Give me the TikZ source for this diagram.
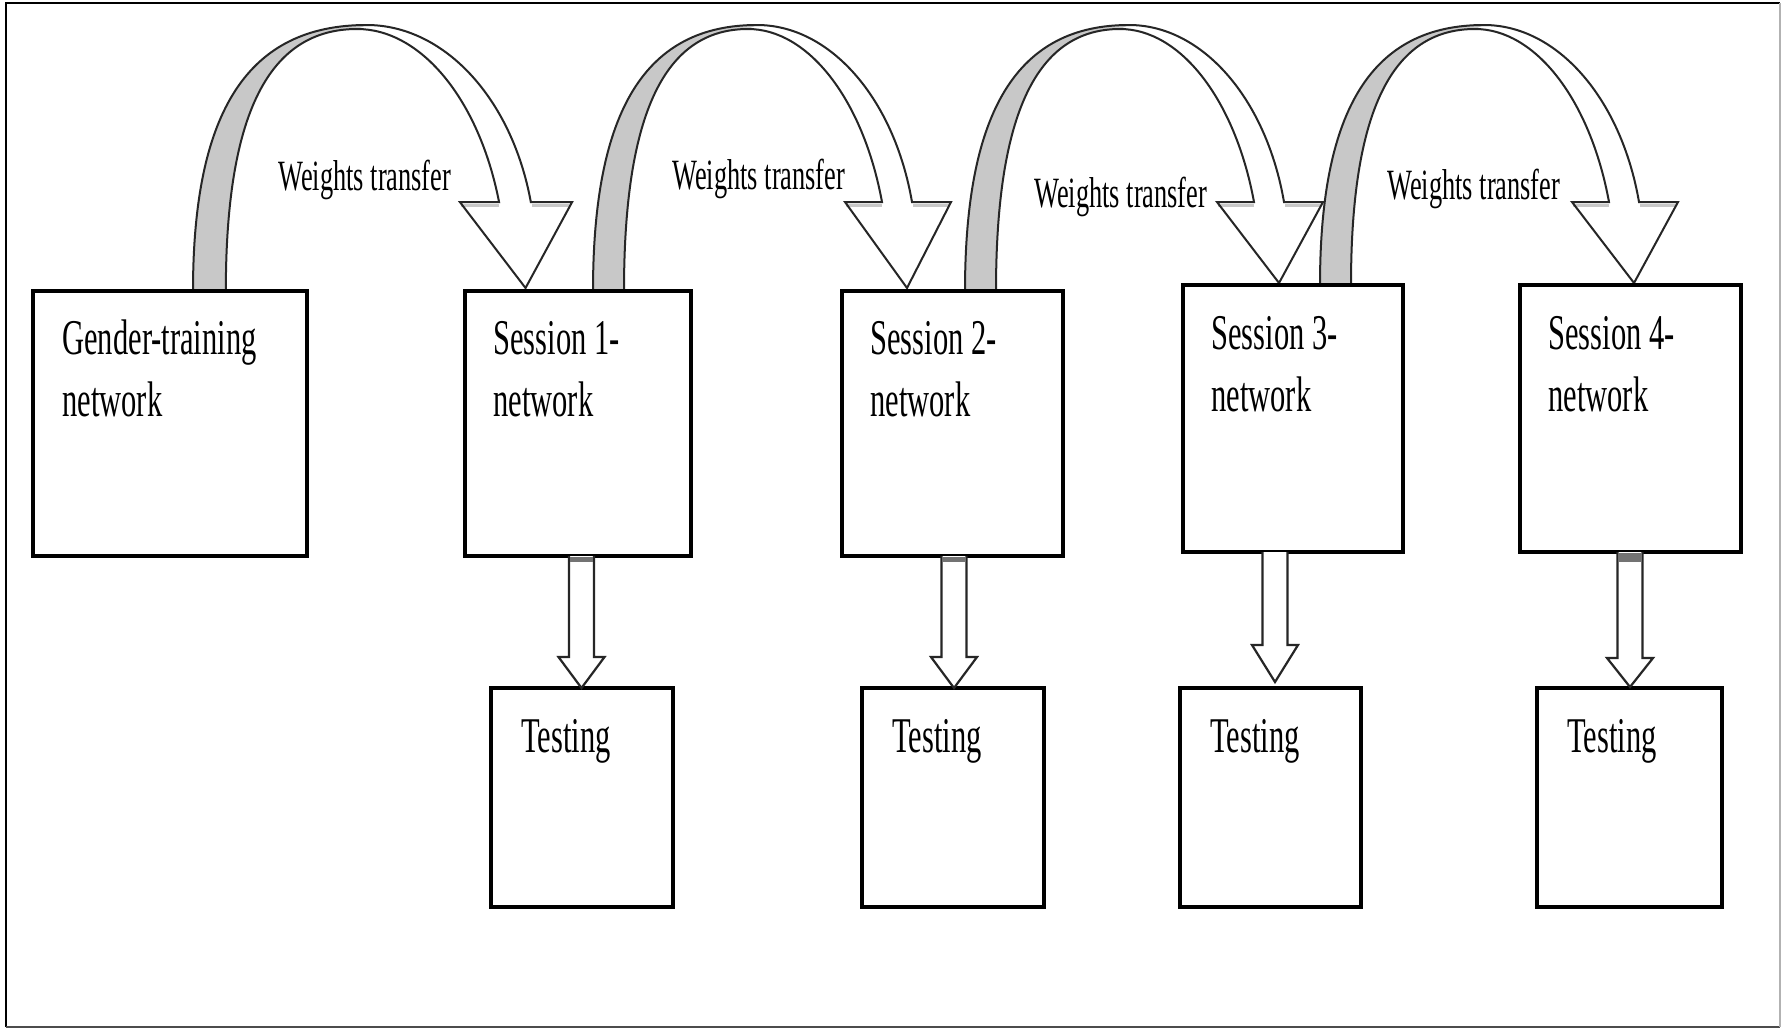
\documentclass[tikz,border=0pt]{standalone}
\usepackage{fontspec}
\newfontfamily\condserif[FakeStretch=0.61]{Liberation Serif}
\definecolor{bandgray}{RGB}{200,200,200}
\tikzset{
  netbox/.style={draw=black, line width=1.8pt, fill=white, inner sep=0pt, outer sep=0pt, anchor=north west},
  boxtext/.style={anchor=base west, inner sep=0pt, font=\condserif\fontsize{25}{30}\selectfont},
  wttext/.style={anchor=base west, inner sep=0pt, font=\condserif\fontsize{21.6}{26}\selectfont},
  arrowline/.style={draw=black!85, line width=1pt, line join=miter},
  bandfill/.style={fill=bandgray},
  blockarrow/.style={draw=black!85, fill=white, line width=1.1pt, line join=miter},
}
% curved "weights transfer" arrow: #1 left foot x, #2 foot y, #3 tip y, #4 xscale
\newcommand\wtarrow[4]{%
  \begin{scope}[shift={(#1,0)}, xscale=#4]
    \fill[bandfill] (0,#2) .. controls (0,{#2-0.68*(#2-25)}) and (52.5,25) .. (164,25)
      -- (155,29) .. controls (72,29) and (31,{#2-0.68*(#2-29)}) .. (31,#2) -- cycle;
    \draw[bandgray, line width=1.2pt] (253,205.5) -- (289,205.5) (320,205.5) -- (356,205.5);
    \draw[arrowline] (0,#2) .. controls (0,{#2-0.68*(#2-25)}) and (52.5,25) .. (164,25)
      .. controls (237,25) and (301,98) .. (319,202)
      -- (358,202) -- (314,#3) -- (252,202) -- (289,202)
      .. controls (270,99) and (215,29) .. (155,29)
      .. controls (72,29) and (31,{#2-0.68*(#2-29)}) .. (31,#2);
  \end{scope}}
% block arrow down: #1 centre x, #2 top y, #3 head base y, #4 tip y
\newcommand\blockdown[4]{%
  \begin{scope}[shift={(#1,0)}]
    \draw[blockarrow] (-12.5,#2) -- (-12.5,#3) -- (-23,#3) -- (0,#4) -- (23,#3) -- (12.5,#3) -- (12.5,#2);
  \end{scope}}
% grey cap at the top of a block arrow: #1 centre x, #2 top y, #3 height
\newcommand\blockcap[3]{%
  \fill[black!55] ({#1-11.5},{#2+1}) rectangle ({#1+11.5},{#2+#3});}
\newcommand\pbox[5]{%
  \node[netbox, minimum width={(#4-#2)*0.5pt}, minimum height={(#5-#3)*0.5pt}] (#1) at (#2,#3) {};}
\begin{document}
\begin{tikzpicture}[x=0.5pt, y=-0.5pt]
  \useasboundingbox (0,0) rectangle (1782,1029);
  \fill[white] (0,0) rectangle (1782,1029);
  % outer frame
  \draw[line width=1.2pt, black] (6,1027) -- (6,3) -- (1780,3);
  \draw[line width=1.2pt, black!70] (6,1027) -- (1780,1027);
  \draw[line width=0.8pt, black!30] (1780,3) -- (1780,1027);

  % curved arrows
  \wtarrow{193}{291}{288}{1.059}
  \wtarrow{593}{291}{288}{1}
  \wtarrow{965}{291}{283}{1}
  \wtarrow{1320}{285}{283}{1}

  % labels of curved arrows
  \node[wttext] (w1) at (278,190) {Weights transfer};
  \node[wttext] (w2) at (672,189) {Weights transfer};
  \node[wttext] (w3) at (1034,207) {Weights transfer};
  \node[wttext] (w4) at (1387,199) {Weights transfer};

  % boxes
  \pbox{g}{33}{291}{307}{556}
  \pbox{s1}{465}{291}{691}{556}
  \pbox{s2}{842}{291}{1063}{556}
  \pbox{s3}{1183}{285}{1403}{552}
  \pbox{s4}{1520}{285}{1741}{552}
  \pbox{t1}{491}{688}{673}{907}
  \pbox{t2}{862}{688}{1044}{907}
  \pbox{t3}{1180}{688}{1361}{907}
  \pbox{t4}{1537}{688}{1722}{907}

  % block arrows to testing
  \blockdown{581.5}{556}{657}{688}
  \blockdown{954}{556}{657}{688}
  \blockdown{1275}{552}{645}{682}
  \blockdown{1630}{552}{658}{687}
  \blockcap{581.5}{556}{6}
  \blockcap{954}{556}{6}
  \blockcap{1630}{552}{10}

  % box texts
  \node[boxtext] (gt1) at ([shift={(29,63)}]g.north west) {Gender-training};
  \node[boxtext] (gt2) at ([shift={(29,125)}]g.north west) {network};
  \node[boxtext] (s1a) at ([shift={(28,63)}]s1.north west) {Session 1-};
  \node[boxtext] (s1b) at ([shift={(28,125)}]s1.north west) {network};
  \node[boxtext] (s2a) at ([shift={(28,63)}]s2.north west) {Session 2-};
  \node[boxtext] (s2b) at ([shift={(28,125)}]s2.north west) {network};
  \node[boxtext] (s3a) at ([shift={(28,64)}]s3.north west) {Session 3-};
  \node[boxtext] (s3b) at ([shift={(28,126)}]s3.north west) {network};
  \node[boxtext] (s4a) at ([shift={(28,64)}]s4.north west) {Session 4-};
  \node[boxtext] (s4b) at ([shift={(28,126)}]s4.north west) {network};
  \node[boxtext] (t1a) at ([shift={(30,64)}]t1.north west) {Testing};
  \node[boxtext] (t2a) at ([shift={(30,64)}]t2.north west) {Testing};
  \node[boxtext] (t3a) at ([shift={(30,64)}]t3.north west) {Testing};
  \node[boxtext] (t4a) at ([shift={(30,64)}]t4.north west) {Testing};
\end{tikzpicture}
\end{document}
